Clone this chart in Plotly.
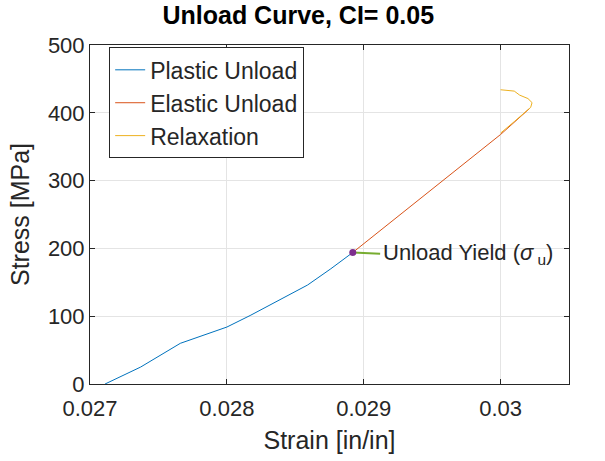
import plotly.graph_objects as go

# ---- data ----
plastic_strain = [0.02711, 0.02737, 0.02766, 0.02773, 0.02800, 0.02817, 0.02839, 0.02859, 0.02876, 0.02892]
plastic_stress = [0, 25, 60, 65, 84, 101, 124, 146, 170, 194]

elastic_strain = [0.02892, 0.02920, 0.02950, 0.02980, 0.03000, 0.03021]
elastic_stress = [194, 239, 287, 336, 368, 406]

relax_strain = [0.03000, 0.03010, 0.03014, 0.03020, 0.03023, 0.03022, 0.03010, 0.03000]
relax_stress = [434, 432, 426, 421, 415, 408, 387, 370]

yield_strain = [0.02892]
yield_stress = [194]
label_strain = 0.02912
label_stress = 192

x_ticks = [0.027, 0.028, 0.029, 0.030]
x_tick_text = ["0.027", "0.028", "0.029", "0.03"]
y_ticks = [0, 100, 200, 300, 400, 500]

FONT = "Liberation Sans, Arial, Helvetica, sans-serif"
INK = "#262626"
GRID = "#e4e4e4"

fig = go.Figure()
fig.add_trace(go.Scatter(x=plastic_strain, y=plastic_stress, mode="lines",
                         name="Plastic Unload",
                         line=dict(color="#0072BD", width=1)))
fig.add_trace(go.Scatter(x=elastic_strain, y=elastic_stress, mode="lines",
                         name="Elastic Unload",
                         line=dict(color="#D95319", width=1)))
fig.add_trace(go.Scatter(x=relax_strain, y=relax_stress, mode="lines",
                         name="Relaxation",
                         line=dict(color="#EDB120", width=1)))
# pointer line from yield point to label
fig.add_trace(go.Scatter(x=[yield_strain[0], label_strain], y=[yield_stress[0], label_stress],
                         mode="lines", showlegend=False, hoverinfo="skip",
                         line=dict(color="#77AC30", width=2)))
fig.add_trace(go.Scatter(x=yield_strain, y=yield_stress, mode="markers", showlegend=False,
                         marker=dict(color="#7E2F8E", size=7, symbol="circle")))

fig.add_annotation(x=label_strain, y=label_stress, xref="x", yref="y",
                   text="Unload Yield (<i>σ</i><sub> u</sub>)", showarrow=False,
                   xanchor="left", yanchor="middle", xshift=1,
                   font=dict(family=FONT, size=22, color=INK))

axis_common = dict(showline=True, linecolor=INK, linewidth=1, mirror="ticks",
                   ticks="inside", ticklen=5, tickcolor=INK, tickwidth=1,
                   showgrid=True, gridcolor=GRID, gridwidth=1, zeroline=False,
                   tickfont=dict(family=FONT, size=22, color=INK))

fig.update_xaxes(range=[0.027, 0.0305], tickvals=x_ticks, ticktext=x_tick_text,
                 ticklabelstandoff=5,
                 title=dict(text="Strain [in/in]", font=dict(family=FONT, size=25, color=INK), standoff=11),
                 **axis_common)
fig.update_yaxes(range=[0, 500], tickvals=y_ticks,
                 title=dict(text="Stress [MPa]", font=dict(family=FONT, size=25, color=INK), standoff=11),
                 **axis_common)

fig.update_layout(
    width=605, height=461,
    margin=dict(l=90, r=36, t=45, b=77, autoexpand=False),
    paper_bgcolor="white", plot_bgcolor="white",
    title=dict(text="<b>Unload Curve, CI= 0.05</b>", x=0.493, xanchor="center",
               y=0.966, yanchor="middle", font=dict(family=FONT, size=25, color="black")),
    legend=dict(x=0.04, y=0.993, xanchor="left", yanchor="top",
                bgcolor="white", bordercolor=INK, borderwidth=1,
                font=dict(family=FONT, size=23, color=INK),
                tracegroupgap=0, itemwidth=30),
    showlegend=True,
)

fig.write_html("out.html", config={"displayModeBar": False},
               post_script="document.body.style.margin='0';document.body.style.padding='0';")
